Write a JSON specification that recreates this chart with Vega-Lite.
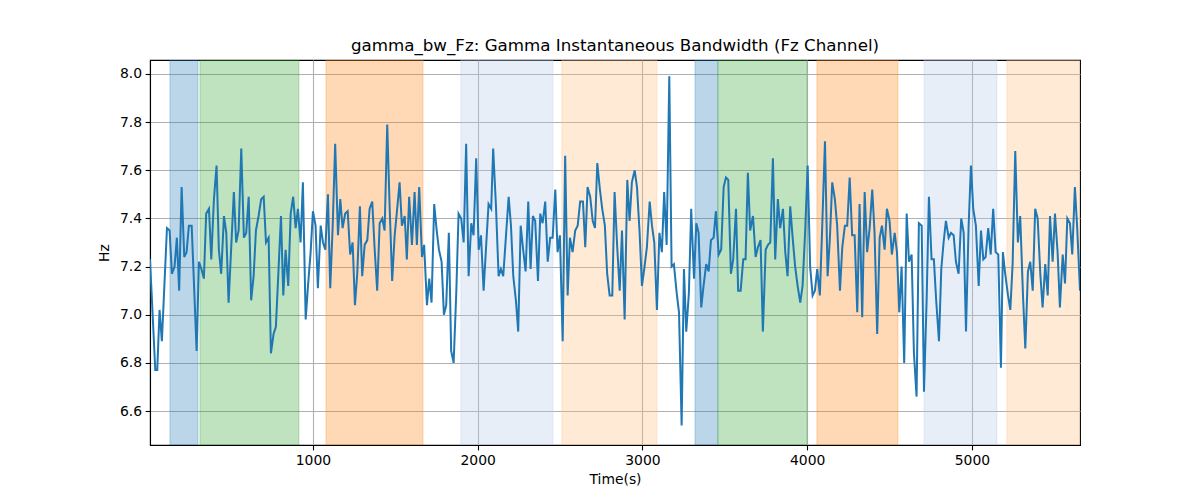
{
  "$schema": "https://vega.github.io/schema/vega-lite/v6.json",
  "width": 930,
  "height": 385,
  "autosize": "none",
  "padding": {"left": 150, "top": 60, "right": 120, "bottom": 55},
  "background": "white",
  "config": {
    "view": {"stroke": "black", "strokeWidth": 1.1},
    "font": "DejaVu Sans",
    "axis": {
      "domainColor": "black", "domainWidth": 1.1,
      "tickColor": "black", "tickWidth": 1.1, "tickSize": 4.9,
      "labelColor": "black", "labelFont": "DejaVu Sans", "labelFontSize": 13.9, "labelPadding": 3.5,
      "titleColor": "black", "titleFont": "DejaVu Sans", "titleFontSize": 13.9, "titleFontWeight": "normal",
      "gridColor": "#b0b0b0", "gridWidth": 1.1
    }
  },
  "title": {"text": "gamma_bw_Fz: Gamma Instantaneous Bandwidth (Fz Channel)", "font": "DejaVu Sans", "fontSize": 16.7, "fontWeight": "normal", "color": "black", "anchor": "middle", "frame": "group", "offset": 5},
  "datasets": {
    "spans": [
      {"start": 132, "end": 302, "kind": "a"},
      {"start": 314, "end": 915, "kind": "b"},
      {"start": 1079, "end": 1668, "kind": "c"},
      {"start": 1898, "end": 2457, "kind": "d"},
      {"start": 2511, "end": 3088, "kind": "e"},
      {"start": 3319, "end": 3458, "kind": "a"},
      {"start": 3458, "end": 3998, "kind": "b"},
      {"start": 4059, "end": 4551, "kind": "c"},
      {"start": 4709, "end": 5152, "kind": "d"},
      {"start": 5212, "end": 5660, "kind": "e"}
    ],
    "series": [
      {"t":11,"v":7.23},{"t":43,"v":6.77},{"t":55,"v":6.77},{"t":69,"v":7.02},{"t":83,"v":6.89},{"t":114,"v":7.36},{"t":130,"v":7.35},{"t":144,"v":7.17},{"t":160,"v":7.2},{"t":174,"v":7.32},{"t":188,"v":7.1},{"t":203,"v":7.53},{"t":219,"v":7.24},{"t":233,"v":7.26},{"t":247,"v":7.37},{"t":264,"v":7.37},{"t":294,"v":6.85},{"t":308,"v":7.22},{"t":323,"v":7.19},{"t":338,"v":7.15},{"t":352,"v":7.42},{"t":369,"v":7.44},{"t":383,"v":7.23},{"t":399,"v":7.48},{"t":415,"v":7.62},{"t":429,"v":7.27},{"t":443,"v":7.17},{"t":460,"v":7.41},{"t":474,"v":7.34},{"t":488,"v":7.05},{"t":520,"v":7.51},{"t":534,"v":7.3},{"t":549,"v":7.35},{"t":565,"v":7.69},{"t":581,"v":7.32},{"t":595,"v":7.34},{"t":610,"v":7.49},{"t":625,"v":7.06},{"t":640,"v":7.16},{"t":654,"v":7.35},{"t":670,"v":7.41},{"t":686,"v":7.48},{"t":701,"v":7.49},{"t":715,"v":7.3},{"t":731,"v":7.32},{"t":745,"v":6.84},{"t":761,"v":6.92},{"t":775,"v":6.95},{"t":792,"v":7.2},{"t":806,"v":7.41},{"t":820,"v":7.08},{"t":834,"v":7.27},{"t":850,"v":7.12},{"t":865,"v":7.42},{"t":880,"v":7.49},{"t":895,"v":7.36},{"t":909,"v":7.44},{"t":925,"v":7.3},{"t":939,"v":7.55},{"t":956,"v":6.98},{"t":970,"v":7.12},{"t":986,"v":7.26},{"t":1000,"v":7.43},{"t":1016,"v":7.37},{"t":1030,"v":7.11},{"t":1047,"v":7.37},{"t":1061,"v":7.3},{"t":1075,"v":7.27},{"t":1091,"v":7.5},{"t":1105,"v":7.11},{"t":1120,"v":7.37},{"t":1135,"v":7.71},{"t":1152,"v":7.33},{"t":1166,"v":7.48},{"t":1180,"v":7.36},{"t":1196,"v":7.42},{"t":1211,"v":7.43},{"t":1226,"v":7.25},{"t":1241,"v":7.3},{"t":1255,"v":7.04},{"t":1269,"v":7.17},{"t":1285,"v":7.45},{"t":1299,"v":7.16},{"t":1314,"v":7.29},{"t":1330,"v":7.31},{"t":1344,"v":7.44},{"t":1360,"v":7.47},{"t":1374,"v":7.28},{"t":1390,"v":7.1},{"t":1405,"v":7.38},{"t":1421,"v":7.4},{"t":1435,"v":7.35},{"t":1451,"v":7.79},{"t":1465,"v":7.46},{"t":1481,"v":7.14},{"t":1496,"v":7.33},{"t":1510,"v":7.43},{"t":1526,"v":7.55},{"t":1540,"v":7.37},{"t":1557,"v":7.41},{"t":1570,"v":7.23},{"t":1584,"v":7.49},{"t":1601,"v":7.29},{"t":1617,"v":7.51},{"t":1631,"v":7.29},{"t":1645,"v":7.53},{"t":1662,"v":7.24},{"t":1675,"v":7.29},{"t":1692,"v":7.04},{"t":1706,"v":7.15},{"t":1720,"v":7.05},{"t":1736,"v":7.46},{"t":1751,"v":7.35},{"t":1765,"v":7.27},{"t":1781,"v":7.22},{"t":1795,"v":7.0},{"t":1809,"v":7.04},{"t":1825,"v":7.34},{"t":1839,"v":6.85},{"t":1854,"v":6.8},{"t":1870,"v":7.09},{"t":1884,"v":7.42},{"t":1900,"v":7.4},{"t":1915,"v":7.3},{"t":1930,"v":7.71},{"t":1945,"v":7.16},{"t":1961,"v":7.38},{"t":1975,"v":7.33},{"t":1991,"v":7.65},{"t":2006,"v":7.27},{"t":2020,"v":7.33},{"t":2036,"v":7.1},{"t":2050,"v":7.27},{"t":2066,"v":7.46},{"t":2082,"v":7.44},{"t":2094,"v":7.69},{"t":2111,"v":7.45},{"t":2127,"v":7.16},{"t":2141,"v":7.19},{"t":2155,"v":7.16},{"t":2171,"v":7.32},{"t":2188,"v":7.49},{"t":2202,"v":7.37},{"t":2216,"v":7.16},{"t":2232,"v":7.06},{"t":2246,"v":6.93},{"t":2261,"v":7.37},{"t":2276,"v":7.27},{"t":2291,"v":7.18},{"t":2307,"v":7.47},{"t":2321,"v":7.19},{"t":2335,"v":7.41},{"t":2349,"v":7.39},{"t":2366,"v":7.14},{"t":2380,"v":7.42},{"t":2394,"v":7.38},{"t":2410,"v":7.47},{"t":2425,"v":7.22},{"t":2440,"v":7.32},{"t":2455,"v":7.32},{"t":2471,"v":7.52},{"t":2485,"v":7.26},{"t":2499,"v":7.33},{"t":2516,"v":6.89},{"t":2531,"v":7.66},{"t":2546,"v":7.08},{"t":2560,"v":7.32},{"t":2576,"v":7.26},{"t":2592,"v":7.35},{"t":2607,"v":7.37},{"t":2622,"v":7.47},{"t":2639,"v":7.47},{"t":2653,"v":7.28},{"t":2667,"v":7.53},{"t":2683,"v":7.49},{"t":2698,"v":7.39},{"t":2712,"v":7.36},{"t":2726,"v":7.63},{"t":2742,"v":7.52},{"t":2756,"v":7.44},{"t":2772,"v":7.37},{"t":2786,"v":7.17},{"t":2801,"v":7.08},{"t":2817,"v":7.08},{"t":2831,"v":7.51},{"t":2847,"v":7.28},{"t":2862,"v":7.1},{"t":2876,"v":7.35},{"t":2892,"v":6.98},{"t":2908,"v":7.56},{"t":2922,"v":7.39},{"t":2936,"v":7.55},{"t":2953,"v":7.6},{"t":2967,"v":7.53},{"t":2983,"v":7.34},{"t":2997,"v":7.12},{"t":3011,"v":7.19},{"t":3027,"v":7.28},{"t":3044,"v":7.47},{"t":3058,"v":7.37},{"t":3072,"v":7.3},{"t":3088,"v":7.02},{"t":3103,"v":7.34},{"t":3118,"v":7.26},{"t":3132,"v":7.51},{"t":3147,"v":7.29},{"t":3163,"v":7.99},{"t":3177,"v":7.2},{"t":3191,"v":7.21},{"t":3208,"v":7.09},{"t":3222,"v":7.01},{"t":3238,"v":6.54},{"t":3252,"v":7.19},{"t":3266,"v":6.93},{"t":3282,"v":7.09},{"t":3296,"v":7.44},{"t":3313,"v":7.15},{"t":3327,"v":7.38},{"t":3341,"v":7.34},{"t":3357,"v":7.03},{"t":3371,"v":7.12},{"t":3387,"v":7.21},{"t":3402,"v":7.18},{"t":3416,"v":7.31},{"t":3432,"v":7.32},{"t":3446,"v":7.43},{"t":3463,"v":7.25},{"t":3478,"v":7.27},{"t":3493,"v":7.53},{"t":3507,"v":7.57},{"t":3521,"v":7.56},{"t":3537,"v":7.17},{"t":3551,"v":7.23},{"t":3568,"v":7.44},{"t":3581,"v":7.1},{"t":3596,"v":7.1},{"t":3612,"v":7.23},{"t":3626,"v":7.23},{"t":3640,"v":7.59},{"t":3654,"v":7.35},{"t":3671,"v":7.41},{"t":3687,"v":7.24},{"t":3701,"v":7.28},{"t":3717,"v":7.31},{"t":3731,"v":6.93},{"t":3748,"v":7.27},{"t":3762,"v":7.29},{"t":3776,"v":7.3},{"t":3792,"v":7.65},{"t":3806,"v":7.23},{"t":3822,"v":7.48},{"t":3836,"v":7.36},{"t":3853,"v":7.44},{"t":3867,"v":7.26},{"t":3881,"v":7.16},{"t":3897,"v":7.45},{"t":3913,"v":7.31},{"t":3927,"v":7.2},{"t":3942,"v":7.12},{"t":3958,"v":7.05},{"t":3972,"v":7.12},{"t":3988,"v":7.35},{"t":4003,"v":7.62},{"t":4018,"v":7.2},{"t":4033,"v":7.08},{"t":4047,"v":7.1},{"t":4061,"v":7.19},{"t":4077,"v":7.08},{"t":4091,"v":7.36},{"t":4108,"v":7.72},{"t":4124,"v":7.16},{"t":4138,"v":7.32},{"t":4152,"v":7.55},{"t":4168,"v":7.48},{"t":4182,"v":7.37},{"t":4199,"v":7.1},{"t":4213,"v":7.28},{"t":4229,"v":7.37},{"t":4243,"v":7.37},{"t":4258,"v":7.57},{"t":4273,"v":7.33},{"t":4288,"v":7.33},{"t":4304,"v":7.01},{"t":4318,"v":7.46},{"t":4334,"v":6.99},{"t":4349,"v":7.51},{"t":4364,"v":7.26},{"t":4379,"v":7.36},{"t":4395,"v":7.52},{"t":4409,"v":7.34},{"t":4425,"v":6.92},{"t":4440,"v":7.32},{"t":4454,"v":7.37},{"t":4470,"v":7.27},{"t":4484,"v":7.44},{"t":4500,"v":7.39},{"t":4514,"v":7.25},{"t":4531,"v":7.34},{"t":4545,"v":7.26},{"t":4559,"v":7.01},{"t":4573,"v":7.2},{"t":4589,"v":6.8},{"t":4604,"v":7.42},{"t":4618,"v":7.22},{"t":4634,"v":7.25},{"t":4648,"v":6.84},{"t":4664,"v":6.66},{"t":4678,"v":7.38},{"t":4695,"v":7.37},{"t":4709,"v":6.68},{"t":4725,"v":7.06},{"t":4739,"v":7.49},{"t":4755,"v":7.23},{"t":4769,"v":7.23},{"t":4783,"v":7.06},{"t":4800,"v":6.89},{"t":4814,"v":7.19},{"t":4828,"v":7.3},{"t":4842,"v":7.39},{"t":4859,"v":7.32},{"t":4873,"v":7.34},{"t":4889,"v":7.33},{"t":4903,"v":7.22},{"t":4919,"v":7.17},{"t":4935,"v":7.4},{"t":4950,"v":7.34},{"t":4964,"v":6.93},{"t":4980,"v":7.37},{"t":4994,"v":7.62},{"t":5008,"v":7.44},{"t":5024,"v":7.37},{"t":5041,"v":7.12},{"t":5055,"v":7.35},{"t":5069,"v":7.23},{"t":5083,"v":7.24},{"t":5099,"v":7.36},{"t":5114,"v":7.25},{"t":5129,"v":7.44},{"t":5144,"v":7.26},{"t":5160,"v":7.25},{"t":5176,"v":6.78},{"t":5188,"v":7.26},{"t":5202,"v":7.17},{"t":5219,"v":7.08},{"t":5233,"v":7.02},{"t":5247,"v":7.21},{"t":5263,"v":7.68},{"t":5279,"v":7.3},{"t":5293,"v":7.41},{"t":5310,"v":7.08},{"t":5324,"v":6.86},{"t":5340,"v":7.18},{"t":5354,"v":7.22},{"t":5369,"v":7.1},{"t":5384,"v":7.44},{"t":5399,"v":7.4},{"t":5415,"v":7.17},{"t":5429,"v":7.03},{"t":5445,"v":7.21},{"t":5460,"v":7.08},{"t":5474,"v":7.41},{"t":5490,"v":7.22},{"t":5504,"v":7.42},{"t":5520,"v":7.26},{"t":5534,"v":7.03},{"t":5551,"v":7.25},{"t":5565,"v":7.13},{"t":5579,"v":7.4},{"t":5595,"v":7.38},{"t":5609,"v":7.25},{"t":5625,"v":7.53},{"t":5639,"v":7.36},{"t":5656,"v":7.1}
    ]
  },
  "layer": [
    {
      "data": {"name": "spans"},
      "mark": {"type": "rect", "fillOpacity": 0.3, "strokeOpacity": 0.3, "strokeWidth": 1, "clip": true},
      "encoding": {
        "x": {"field": "start", "type": "quantitative", "scale": {"domain": [11, 5656], "nice": false, "zero": false}, "axis": {"values": [1000, 2000, 3000, 4000, 5000], "format": "d", "title": "Time(s)", "titlePadding": 5, "grid": true}},
        "x2": {"field": "end"},
        "color": {"field": "kind", "type": "nominal", "scale": {"domain": ["a", "b", "c", "d", "e"], "range": ["#1f77b4", "#2ca02c", "#ff7f0e", "#aec7e8", "#ffbb78"]}, "legend": null},
        "stroke": {"field": "kind", "type": "nominal", "scale": {"domain": ["a", "b", "c", "d", "e"], "range": ["#1f77b4", "#2ca02c", "#ff7f0e", "#aec7e8", "#ffbb78"]}, "legend": null}
      }
    },
    {
      "data": {"name": "series"},
      "mark": {"type": "line", "color": "#1f77b4", "strokeWidth": 2, "clip": true},
      "encoding": {
        "x": {"field": "t", "type": "quantitative"},
        "y": {"field": "v", "type": "quantitative", "scale": {"domain": [6.459, 8.058], "nice": false, "zero": false}, "axis": {"values": [6.6, 6.8, 7.0, 7.2, 7.4, 7.6, 7.8, 8.0], "format": ".1f", "title": "Hz", "titlePadding": 8, "grid": true}}
      }
    }
  ]
}
